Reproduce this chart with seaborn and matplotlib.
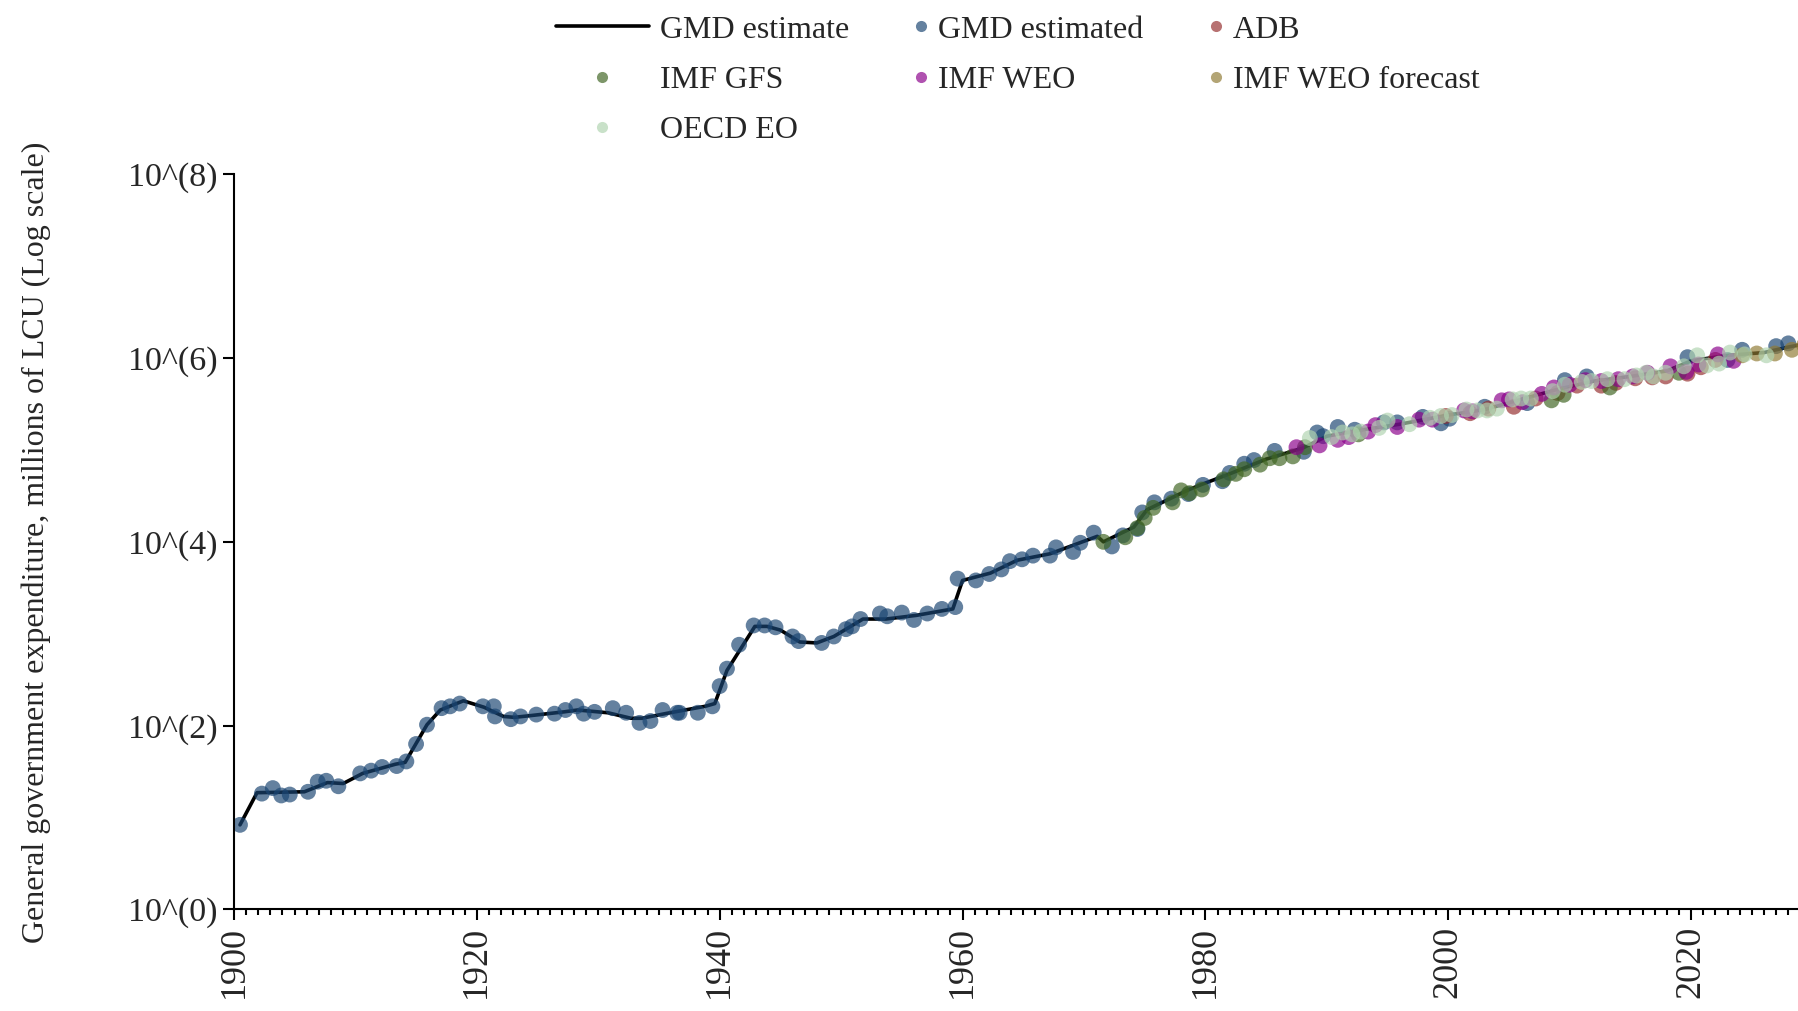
import matplotlib
matplotlib.use("Agg")
import numpy as np
import pandas as pd
import matplotlib.pyplot as plt
from matplotlib.lines import Line2D
from matplotlib.ticker import FixedLocator, FixedFormatter, MultipleLocator, NullLocator
import seaborn as sns

# GMD estimate (line), values as log10 of millions of LCU
line_years = [1900.5, 1901.9, 1905.8, 1907.7, 1909.0, 1910.6, 1913.3, 1914.1, 1915.9, 1917.0,
              1918.9, 1920.6, 1922.2, 1923.1, 1924.5, 1927.2, 1928.3, 1930.8, 1932.7, 1933.6,
              1935.5, 1938.8, 1939.6, 1940.6, 1942.9, 1943.9, 1945.0, 1946.6, 1948.0, 1949.4,
              1951.8, 1953.7, 1956.2, 1959.2, 1960.0, 1962.3, 1964.5, 1967.2, 1971.1, 1971.6,
              1973.0, 1974.1, 1975.2, 1976.3, 1978.5, 1979.6, 1982.0, 1985.0, 1988.0, 1990.0,
              1993.0, 1996.0, 2000.0, 2003.0, 2006.0, 2009.0, 2012.0, 2015.0, 2018.0, 2020.0,
              2023.0, 2026.0, 2028.0, 2030.0]
line_log = [0.92, 1.27, 1.28, 1.38, 1.37, 1.48, 1.58, 1.60, 2.01, 2.17,
            2.27, 2.20, 2.10, 2.09, 2.11, 2.15, 2.17, 2.14, 2.08, 2.08,
            2.13, 2.21, 2.24, 2.60, 3.08, 3.08, 3.04, 2.91, 2.90, 2.97,
            3.16, 3.16, 3.20, 3.27, 3.58, 3.66, 3.80, 3.87, 4.06, 4.00,
            4.09, 4.16, 4.35, 4.42, 4.56, 4.62, 4.74, 4.90, 5.02, 5.15,
            5.22, 5.28, 5.38, 5.44, 5.55, 5.66, 5.75, 5.80, 5.86, 5.97,
            6.03, 6.06, 6.12, 6.17]

# source points
gmd_years = [1900.5, 1902.3, 1903.2, 1903.9, 1904.6, 1906.1, 1906.9, 1907.6, 1908.6, 1910.4,
             1911.3, 1912.2, 1913.4, 1914.2, 1915.0, 1915.9, 1917.1, 1917.8, 1918.6, 1920.5,
             1921.4, 1921.5, 1922.8, 1923.6, 1924.9, 1926.4, 1927.3, 1928.2, 1928.8, 1929.7,
             1931.2, 1932.3, 1933.4, 1934.3, 1935.3, 1936.5, 1936.7, 1938.2, 1939.4, 1940.0,
             1940.6, 1941.6, 1942.8, 1943.7, 1944.6, 1946.0, 1946.5, 1948.4, 1949.4, 1950.4,
             1950.9, 1951.6, 1953.2, 1953.8, 1955.0, 1956.0, 1957.1, 1958.3, 1959.4, 1959.6,
             1961.1, 1962.2, 1963.2, 1963.9, 1964.9, 1965.8, 1967.2, 1967.7, 1969.1, 1969.7,
             1970.8, 1972.3, 1973.2, 1974.4, 1974.8, 1975.8, 1977.2, 1978.6, 1979.8, 1981.4,
             1982.0, 1983.2, 1984.0, 1985.7, 1988.1, 1989.2, 1989.7, 1990.9, 1992.3, 1994.7,
             1995.8, 1997.9, 1999.4, 2000.1, 2003.0, 2006.5, 2009.6, 2011.4, 2019.7, 2023.0,
             2024.2, 2027.0, 2028.0]
gmd_log = [0.92, 1.26, 1.32, 1.24, 1.25, 1.28, 1.39, 1.40, 1.34, 1.48,
           1.51, 1.55, 1.56, 1.61, 1.80, 2.01, 2.19, 2.21, 2.24, 2.21,
           2.21, 2.10, 2.07, 2.10, 2.12, 2.13, 2.17, 2.21, 2.13, 2.15,
           2.19, 2.14, 2.03, 2.05, 2.17, 2.14, 2.14, 2.14, 2.21, 2.43,
           2.62, 2.88, 3.09, 3.09, 3.07, 2.97, 2.92, 2.90, 2.97, 3.05,
           3.08, 3.16, 3.22, 3.19, 3.23, 3.15, 3.22, 3.27, 3.29, 3.60,
           3.58, 3.65, 3.70, 3.79, 3.81, 3.85, 3.85, 3.94, 3.89, 3.99,
           4.10, 3.95, 4.07, 4.14, 4.32, 4.43, 4.47, 4.52, 4.62, 4.66,
           4.75, 4.85, 4.89, 4.99, 4.98, 5.19, 5.15, 5.25, 5.22, 5.30,
           5.30, 5.36, 5.29, 5.34, 5.47, 5.51, 5.76, 5.80, 6.01, 5.98,
           6.09, 6.13, 6.16]

adb_years = [1999.8, 2001.8, 2003.3, 2005.4, 2007.2, 2009.0, 2010.6, 2012.6, 2013.8, 2015.4,
             2016.8, 2017.9, 2019.7, 2020.8, 2022.0]
adb_log = [5.37, 5.40, 5.45, 5.47, 5.56, 5.62, 5.70, 5.70, 5.73, 5.78,
           5.79, 5.80, 5.83, 5.90, 5.98]

gfs_years = [1971.6, 1973.4, 1974.4, 1975.0, 1975.7, 1977.3, 1978.0, 1978.7, 1979.7, 1981.5,
             1982.5, 1983.2, 1984.5, 1985.3, 1986.1, 1987.2, 1988.2, 1992.6, 2008.5, 2009.5,
             2013.3, 2019.0]
gfs_log = [4.00, 4.05, 4.15, 4.26, 4.37, 4.43, 4.56, 4.53, 4.57, 4.68,
           4.74, 4.79, 4.84, 4.91, 4.91, 4.93, 5.03, 5.17, 5.54, 5.60,
           5.68, 5.84]

weo_years = [1987.5, 1989.4, 1990.9, 1991.8, 1993.4, 1994.0, 1995.8, 1997.6, 1998.7, 2001.3,
             2002.0, 2004.4, 2005.0, 2006.1, 2007.7, 2008.7, 2010.0, 2011.3, 2012.6, 2014.0,
             2015.2, 2016.4, 2018.3, 2019.6, 2020.6, 2022.2, 2023.5]
weo_log = [5.03, 5.05, 5.11, 5.14, 5.20, 5.27, 5.25, 5.33, 5.33, 5.43,
           5.42, 5.54, 5.55, 5.52, 5.61, 5.68, 5.71, 5.76, 5.75, 5.77,
           5.80, 5.84, 5.91, 5.85, 5.93, 6.04, 5.97]

fc_years = [2024.2, 2025.4, 2026.9, 2028.3, 2029.3, 2030.2]
fc_log = [6.03, 6.05, 6.05, 6.09, 6.14, 6.18]

oecd_years = [1988.6, 1990.4, 1991.3, 1992.1, 1992.8, 1994.3, 1995.0, 1996.8, 1998.5, 1999.4,
              2000.3, 2001.5, 2002.4, 2003.2, 2004.0, 2005.3, 2006.0, 2006.8, 2008.6, 2009.6,
              2011.0, 2011.8, 2013.1, 2014.5, 2015.5, 2016.3, 2016.9, 2017.9, 2019.4, 2020.5,
              2021.3, 2022.3, 2023.2, 2024.4, 2026.2]
oecd_log = [5.13, 5.14, 5.19, 5.17, 5.20, 5.24, 5.32, 5.28, 5.35, 5.37,
            5.38, 5.44, 5.43, 5.43, 5.45, 5.55, 5.56, 5.56, 5.64, 5.71,
            5.74, 5.75, 5.77, 5.77, 5.81, 5.84, 5.80, 5.84, 5.91, 6.03,
            5.92, 5.94, 6.06, 6.04, 6.03]

sources = ["GMD estimated", "ADB", "IMF GFS", "IMF WEO", "IMF WEO forecast", "OECD EO"]
colors = ["#1a4572", "#962e2e", "#3f6522", "#8b008b", "#907a34", "#b0d4b0"]

ytick_vals = [1, 1e2, 1e4, 1e6, 1e8]
ytick_labels = ["10^(0)", "10^(2)", "10^(4)", "10^(6)", "10^(8)"]
xtick_vals = [1900, 1920, 1940, 1960, 1980, 2000, 2020]

series = {
    "GMD estimated": (gmd_years, gmd_log),
    "ADB": (adb_years, adb_log),
    "IMF GFS": (gfs_years, gfs_log),
    "IMF WEO": (weo_years, weo_log),
    "IMF WEO forecast": (fc_years, fc_log),
    "OECD EO": (oecd_years, oecd_log),
}
df = pd.concat([pd.DataFrame({"year": yrs, "value": 10 ** np.array(lg), "source": name})
                for name, (yrs, lg) in series.items()], ignore_index=True)
palette = dict(zip(sources, colors))

sns.set_style("ticks")
plt.rcParams["font.family"] = ["Liberation Serif", "DejaVu Serif"]

fig = plt.figure(figsize=(17.98, 10.11), dpi=100)
ax = fig.add_axes([0.1301, 0.1005, 0.8699, 0.7271])
ax.set_yscale("log")

sns.lineplot(x=line_years, y=10 ** np.array(line_log), color="black", lw=2.6,
             estimator=None, ax=ax, zorder=1)
sns.scatterplot(data=df, x="year", y="value", hue="source", hue_order=sources,
                palette=palette, s=130, alpha=0.68, edgecolor="none", legend=False,
                ax=ax, zorder=2)

ax.set_xlim(1900, 2028.8)
ax.set_ylim(1, 1e8)
ax.yaxis.set_major_locator(FixedLocator(ytick_vals))
ax.yaxis.set_major_formatter(FixedFormatter(ytick_labels))
ax.yaxis.set_minor_locator(NullLocator())
ax.xaxis.set_major_locator(FixedLocator(xtick_vals))
ax.xaxis.set_minor_locator(MultipleLocator(1))
ax.tick_params(axis="both", which="major", length=8, width=1.5, color="black")
ax.tick_params(axis="x", which="minor", length=4, width=1.5, color="black")
ax.tick_params(axis="x", which="major", labelrotation=90, labelsize=26, pad=4)
ax.tick_params(axis="y", which="major", labelsize=24.5, pad=4)
for side in ["top", "right"]:
    ax.spines[side].set_visible(False)
for side in ["left", "bottom"]:
    ax.spines[side].set_linewidth(1.5)
    ax.spines[side].set_color("black")
ax.grid(False)

ax.set_xlabel("")
ax.set_ylabel("General government expenditure, millions of LCU (Log scale)", fontsize=23)
ax.yaxis.set_label_coords(-0.117, 0.5)

# legend laid out as three columns with own key widths
def pt(c):
    return Line2D([], [], marker="o", ls="", color=c, alpha=0.68, markersize=8,
                  markeredgewidth=0)

gmd_line = Line2D([], [], color="black", lw=2.6)
common = dict(loc="upper left", bbox_transform=fig.transFigure, frameon=False, fontsize=23,
              borderpad=0, borderaxespad=0, labelspacing=0.66)
fig.legend([gmd_line, pt(palette["IMF GFS"]), pt(palette["OECD EO"])],
           ["GMD estimate", "IMF GFS", "OECD EO"],
           bbox_to_anchor=(0.3092, 0.985), handlelength=2.9, handletextpad=0.37, **common)
fig.legend([pt(palette["GMD estimated"]), pt(palette["IMF WEO"])],
           ["GMD estimated", "IMF WEO"],
           bbox_to_anchor=(0.5067, 0.985), handlelength=0.6, handletextpad=0.25, **common)
fig.legend([pt(palette["ADB"]), pt(palette["IMF WEO forecast"])],
           ["ADB", "IMF WEO forecast"],
           bbox_to_anchor=(0.6707, 0.985), handlelength=0.6, handletextpad=0.25, **common)

fig.savefig("out.png", dpi=100)
